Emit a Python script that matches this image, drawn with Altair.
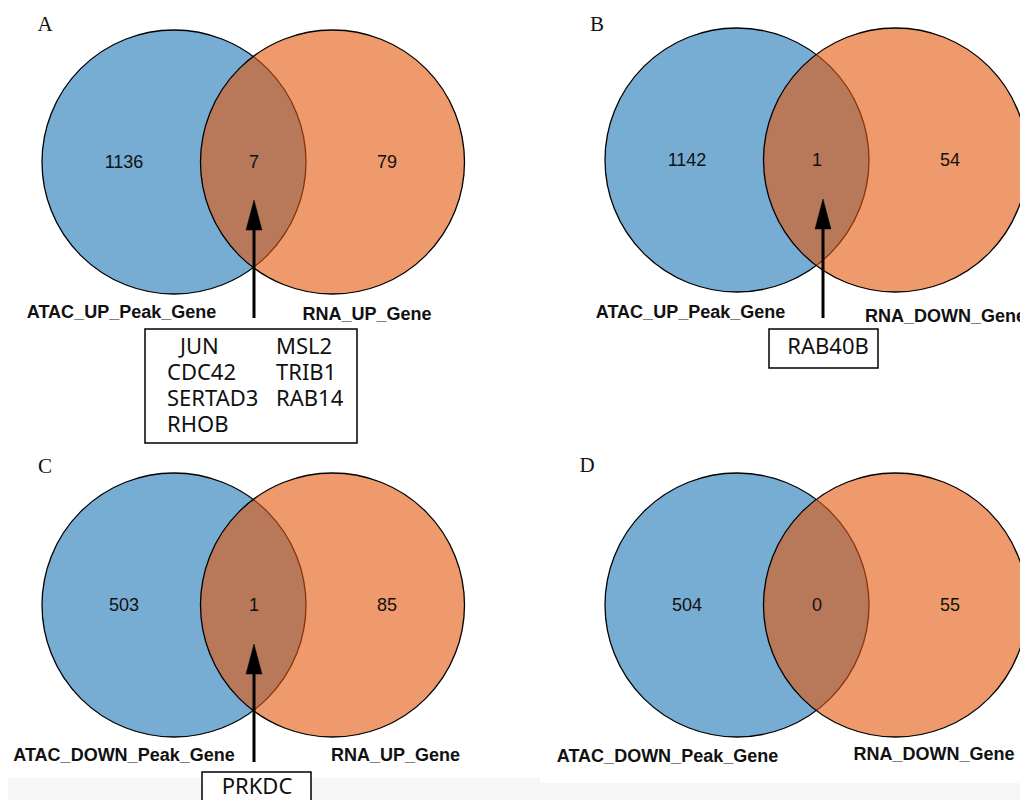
import altair as alt
import pandas as pd

# ---------------- data ----------------
panels = ["A", "B", "C", "D"]
left_sets = ["ATAC_UP_Peak_Gene", "ATAC_UP_Peak_Gene", "ATAC_DOWN_Peak_Gene", "ATAC_DOWN_Peak_Gene"]
right_sets = ["RNA_UP_Gene", "RNA_DOWN_Gene", "RNA_UP_Gene", "RNA_DOWN_Gene"]
left_only = [1136, 1142, 503, 504]
overlap = [7, 1, 1, 0]
right_only = [79, 54, 85, 55]
overlap_genes = [
    ["JUN", "MSL2", "CDC42", "TRIB1", "SERTAD3", "RAB14", "RHOB"],
    ["RAB40B"],
    ["PRKDC"],
    [],
]

# ---------------- layout (page pixels) ----------------
cx_left = [174, 737, 174, 737]
cy = [162, 160, 605, 605]
cx_gap = 158.5
radius = 132
count_dx = [-50, 80, 213]
letter_xy = [(45, 25), (597, 25), (45, 467), (587, 466)]
left_label_xy = [(121.5, 313), (690.5, 313), (124, 756), (667.5, 757)]
right_label_xy = [(367, 315), (945.5, 317), (395.5, 756), (934, 755)]
arrow_x = [254, 823, 254]
arrow_tip = [200, 199, 644]
arrow_tail = [318, 318, 762]
head_len = 30
boxes = [(145, 329, 357, 443), (769, 329, 878, 368), (202, 772, 311, 815)]
# panel A: two left-aligned columns; panels B, C: one centred name
grid_cols = [167, 276]
grid_row0 = 347
grid_row_step = 26
single_gene_xy = [None, (828, 347), (257, 787)]
bands = [(8, 778, 540, 800), (540, 783, 1020, 800)]

W, H = 1012, 792
xs = alt.Scale(domain=[8, 8 + W], nice=False, zero=False)
ys = alt.Scale(domain=[8, 8 + H], nice=False, zero=False, reverse=True)
X = lambda f: alt.X(f, type="quantitative", scale=xs, axis=None)
Y = lambda f: alt.Y(f, type="quantitative", scale=ys, axis=None)

blue_fill = "#1c75b6"
orange_fill = "#e3570a"
SANS = "Liberation Sans, Arial, sans-serif"
SERIF = "Liberation Serif, Times New Roman, serif"
GENEFONT = "Noto Sans, sans-serif"

# ---------------- tables ----------------
circ = pd.DataFrame({
    "x": cx_left + [c + cx_gap for c in cx_left],
    "y": cy + cy,
    "set": ["left"] * 4 + ["right"] * 4,
})
counts = []
for i in range(4):
    for dx, v in zip(count_dx, [left_only[i], overlap[i], right_only[i]]):
        counts.append({"x": cx_left[i] + dx, "y": cy[i] + 1, "t": str(v)})
counts = pd.DataFrame(counts)

labels = pd.DataFrame(
    [{"x": left_label_xy[i][0], "y": left_label_xy[i][1], "t": left_sets[i]} for i in range(4)]
    + [{"x": right_label_xy[i][0], "y": right_label_xy[i][1], "t": right_sets[i]} for i in range(4)]
)
letters = pd.DataFrame({"x": [p[0] for p in letter_xy], "y": [p[1] for p in letter_xy], "t": panels})

arrows = pd.DataFrame({
    "x": arrow_x,
    "y": [t + head_len - 2 for t in arrow_tip],
    "y2": arrow_tail,
    "yh": [t + head_len / 2 for t in arrow_tip],
})
box_df = pd.DataFrame({
    "x": [b[0] for b in boxes], "y": [b[1] for b in boxes],
    "x2": [b[2] for b in boxes], "y2": [b[3] for b in boxes],
})
band_df = pd.DataFrame({
    "x": [b[0] for b in bands], "y": [b[1] for b in bands],
    "x2": [b[2] for b in bands], "y2": [b[3] for b in bands],
})
grid_genes = [{"x": grid_cols[k % 2] + (13 if k == 0 else 0),
               "y": grid_row0 + (k // 2) * grid_row_step, "t": g}
              for k, g in enumerate(overlap_genes[0])]
single_genes = [{"x": single_gene_xy[i][0], "y": single_gene_xy[i][1], "t": g}
                for i in (1, 2) for g in overlap_genes[i]]
grid_genes = pd.DataFrame(grid_genes)
single_genes = pd.DataFrame(single_genes)

# ---------------- layers ----------------
band_layer = alt.Chart(band_df).mark_rect(fill="#f6f6f6").encode(
    x=X("x"), x2="x2", y=Y("y"), y2="y2")

circle_size = (2 * radius) ** 2  # Vega circle: diameter = sqrt(size)
blue = alt.Chart(circ[circ.set == "left"]).mark_circle(
    size=circle_size, fill=blue_fill, fillOpacity=0.6, stroke="black",
    strokeWidth=1.3, opacity=1).encode(x=X("x"), y=Y("y"))
orange = alt.Chart(circ[circ.set == "right"]).mark_circle(
    size=circle_size, fill=orange_fill, fillOpacity=0.6, stroke="black",
    strokeWidth=1.3, opacity=1).encode(x=X("x"), y=Y("y"))

count_layer = alt.Chart(counts).mark_text(
    font=SANS, fontSize=18, color="#111", baseline="middle", align="center").encode(
    x=X("x"), y=Y("y"), text="t:N")
label_layer = alt.Chart(labels).mark_text(
    font=SANS, fontSize=18, fontWeight="bold", color="#111", baseline="middle", align="center").encode(
    x=X("x"), y=Y("y"), text="t:N")
letter_layer = alt.Chart(letters).mark_text(
    font=SERIF, fontSize=21, color="#111", baseline="middle", align="center").encode(
    x=X("x"), y=Y("y"), text="t:N")

arrow_line = alt.Chart(arrows).mark_rule(color="black", strokeWidth=3).encode(
    x=X("x"), y=Y("y"), y2="y2")
arrow_head = alt.Chart(arrows).mark_point(
    shape="M0,-1L0.53,1L-0.53,1Z", size=head_len ** 2, filled=True,
    fill="black", stroke="black", strokeWidth=0.5, opacity=1).encode(
    x=X("x"), y=Y("yh"))

box_layer = alt.Chart(box_df).mark_rect(
    fill="white", stroke="black", strokeWidth=1.5).encode(
    x=X("x"), x2="x2", y=Y("y"), y2="y2")
grid_gene_layer = alt.Chart(grid_genes).mark_text(
    font=GENEFONT, fontSize=22, color="#111", baseline="middle", align="left").encode(
    x=X("x"), y=Y("y"), text="t:N")
single_gene_layer = alt.Chart(single_genes).mark_text(
    font=GENEFONT, fontSize=22, color="#111", baseline="middle", align="center").encode(
    x=X("x"), y=Y("y"), text="t:N")

chart = alt.layer(
    band_layer, blue, orange, count_layer, label_layer, letter_layer,
    box_layer, arrow_line, arrow_head, grid_gene_layer, single_gene_layer,
).properties(
    width=W, height=H, padding=0,
    autosize=alt.AutoSizeParams(type="none"),
).configure_view(stroke=None)

chart.save("out.html", embed_options={"renderer": "svg", "actions": False})
